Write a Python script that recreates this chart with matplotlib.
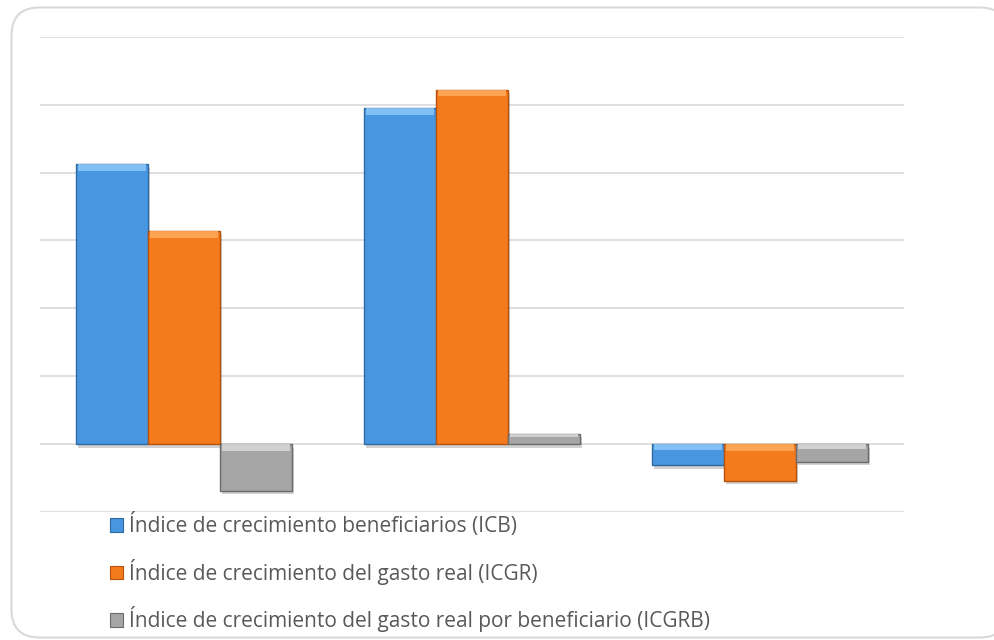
import matplotlib
matplotlib.use("Agg")
import matplotlib.pyplot as plt
import matplotlib.patheffects as pe
from matplotlib.patches import FancyBboxPatch, Patch
import numpy as np

categories = ["G1", "G2", "G3"]
series_names = [
    "Índice de crecimiento beneficiarios (ICB)",
    "Índice de crecimiento del gasto real (ICGR)",
    "Índice de crecimiento del gasto real por beneficiario (ICGRB)",
]
icb = [4.12, 4.95, -0.31]
icgr = [3.14, 5.22, -0.54]
icgrb = [-0.69, 0.15, -0.26]

colors = ["#4796df", "#f57a1c", "#a5a5a5"]
edge_colors = ["#2f6aa3", "#b5520e", "#6b6b6b"]
top_colors = ["#8cc8f8", "#ffac5c", "#dadada"]

plt.rcParams["font.family"] = ["Open Sans", "DejaVu Sans"]

fig = plt.figure(figsize=(9.95, 6.4), dpi=100)

# background frame
bg = fig.add_axes([0, 0, 1, 1])
bg.set_xlim(0, 995)
bg.set_ylim(640, 0)
bg.axis("off")
frame = FancyBboxPatch((11.5, 7.5), 996.5, 630, boxstyle="round,pad=0,rounding_size=28",
                       fc="white", ec="#d9d9d9", lw=1.5)
bg.add_patch(frame)

ax = fig.add_axes([40 / 995, 1 - 512 / 640, 864 / 995, (512 - 36.7) / 640])
ax.set_zorder(2)
ax.patch.set_alpha(0)
x = np.arange(len(categories))
w = 0.25
data = [icb, icgr, icgrb]
for i, (vals, c, ec, tc) in enumerate(zip(data, colors, edge_colors, top_colors)):
    pos = x + (i - 1) * w
    bars = ax.bar(pos, vals, width=w * 0.99, color=c, edgecolor=ec, linewidth=1.0, zorder=3)
    for b in bars:
        b.set_path_effects([pe.SimplePatchShadow(offset=(1.5, -2.5), shadow_rgbFace="#000000", alpha=0.18),
                            pe.Normal()])
    # bevel highlight along the top edge of each bar
    for p, v in zip(pos, vals):
        top = max(v, 0)
        h = min(0.1, abs(v) * 0.3)
        ax.bar(p, h, bottom=top - h, width=w * 0.99 - 0.014, color=tc, linewidth=0, zorder=4, alpha=0.85)

ax.set_xlim(-0.5, 2.5)
ax.set_ylim(-1, 6)
ax.set_yticks(np.arange(-1, 7, 1))
ax.grid(axis="y", color="#d9d9d9", linewidth=1.2, zorder=0)
ax.tick_params(left=False, bottom=False, labelleft=False, labelbottom=False)
for s in ax.spines.values():
    s.set_visible(False)

handles = [Patch(facecolor=c, edgecolor=ec, linewidth=0.8) for c, ec in zip(colors, edge_colors)]
leg = fig.legend(handles, series_names, loc="upper left", bbox_to_anchor=(102 / 995, 1 - 505 / 640),
                 frameon=False, fontsize=15, labelcolor="#595959", handlelength=0.6, handleheight=0.6,
                 handletextpad=0.3, labelspacing=1.03, borderaxespad=0)

fig.savefig("out.png", dpi=100)
